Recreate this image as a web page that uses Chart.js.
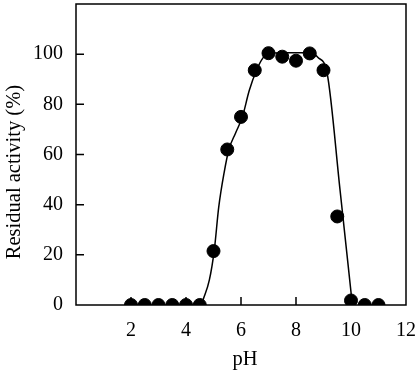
<!DOCTYPE html>
<html>
<head>
<meta charset="utf-8">
<script src="https://cdn.jsdelivr.net/npm/chart.js@4.4.1/dist/chart.umd.min.js"></script>
<style>
  html, body { margin: 0; padding: 0; background: #fff; }
  #wrap { width: 418px; height: 374px; }
</style>
</head>
<body>
<div id="wrap"><canvas id="ph-chart" width="418" height="374"></canvas></div>
<script>
// ---- data ----
const phValues = [2, 2.5, 3, 3.5, 4, 4.5, 5, 5.5, 6, 6.5, 7, 7.5, 8, 8.5, 9, 9.5, 10, 10.5, 11];
const activity = [0, 0, 0, 0, 0, 0, 21.5, 62, 75, 93.6, 100.4, 99, 97.4, 100.3, 93.6, 35.3, 1.8, 0, 0];

// fitted curve drawn through the points
const curvePh = [4.56, 4.62, 4.85, 5.03, 5.19, 5.39, 5.56, 5.8, 6.05, 6.3, 6.56, 6.8, 7.0, 7.5, 8.56, 8.8, 9.13, 9.6, 10.05];
const curveAct = [0, 2, 10, 22, 39, 53, 62, 68.5, 75, 85.5, 93.5, 98.5, 100.4, 100.6, 100.6, 98.7, 92.5, 46, 0];

const xTicks = [0, 2, 4, 6, 8, 10, 12];
const yTicks = [0, 20, 40, 60, 80, 100, 120];

const xTitle = "pH";
const yTitle = "Residual activity (%)";

const FONT = "'Liberation Serif', 'DejaVu Serif', serif";

// frame, inward tick marks and axis titles
const framePlugin = {
  id: "frame",
  afterDraw(chart) {
    const { ctx, scales } = chart;
    const x0 = scales.x.getPixelForValue(xTicks[0]);
    const x1 = scales.x.getPixelForValue(xTicks[xTicks.length - 1]);
    const y0 = scales.y.getPixelForValue(yTicks[0]);
    const y1 = scales.y.getPixelForValue(yTicks[yTicks.length - 1]);
    ctx.save();
    ctx.strokeStyle = "#000";
    ctx.lineWidth = 1.5;
    ctx.strokeRect(x0, y1, x1 - x0, y0 - y1);

    ctx.beginPath();
    xTicks.slice(1, -1).forEach(v => {
      const x = scales.x.getPixelForValue(v);
      ctx.moveTo(x, y0);
      ctx.lineTo(x, y0 - 8);
    });
    yTicks.slice(1, -1).forEach(v => {
      const y = scales.y.getPixelForValue(v);
      ctx.moveTo(x0, y);
      ctx.lineTo(x0 + 8, y);
    });
    ctx.stroke();

    ctx.fillStyle = "#000";
    ctx.font = "20.5px " + FONT;
    ctx.textAlign = "center";
    ctx.textBaseline = "middle";
    ctx.fillText(xTitle, (x0 + x1) / 2 + 4, y0 + 55);

    ctx.translate(15, scales.y.getPixelForValue(53));
    ctx.rotate(-Math.PI / 2);
    ctx.fillText(yTitle, 0, 0);
    ctx.restore();
  }
};

const ctx = document.getElementById("ph-chart").getContext("2d");
new Chart(ctx, {
  type: "scatter",
  data: {
    datasets: [
      {
        label: "fit",
        data: curvePh.map((x, i) => ({ x: x, y: curveAct[i] })),
        showLine: true,
        borderColor: "#000",
        borderWidth: 1.5,
        pointRadius: 0,
        cubicInterpolationMode: "monotone",
        order: 2
      },
      {
        label: "activity",
        data: phValues.map((x, i) => ({ x: x, y: activity[i] })),
        showLine: false,
        backgroundColor: "#000",
        borderColor: "#000",
        pointRadius: 6.5,
        pointHoverRadius: 6.5,
        order: 1
      }
    ]
  },
  options: {
    responsive: false,
    animation: false,
    events: [],
    layout: { autoPadding: false, padding: { top: 4, right: 12, left: 0, bottom: 0 } },
    plugins: { legend: { display: false }, tooltip: { enabled: false } },
    scales: {
      x: {
        type: "linear",
        min: 0,
        max: 12,
        afterBuildTicks: s => { s.ticks = xTicks.map(v => ({ value: v })); },
        afterFit: s => { s.height = 69; s.paddingLeft = 0; s.paddingRight = 0; },
        grid: { display: false, drawTicks: false },
        border: { display: false },
        ticks: {
          padding: 14,
          color: "#000",
          font: { family: FONT, size: 20 },
          callback: v => (v === 0 ? "" : v)
        }
      },
      y: {
        type: "linear",
        min: 0,
        max: 120,
        afterBuildTicks: s => { s.ticks = yTicks.map(v => ({ value: v })); },
        afterFit: s => { s.width = 76; s.paddingTop = 0; s.paddingBottom = 0; },
        grid: { display: false, drawTicks: false },
        border: { display: false },
        ticks: {
          padding: 13,
          color: "#000",
          font: { family: FONT, size: 20 },
          callback: v => (v === 120 ? "" : v)
        }
      }
    }
  },
  plugins: [framePlugin]
});
</script>
</body>
</html>
